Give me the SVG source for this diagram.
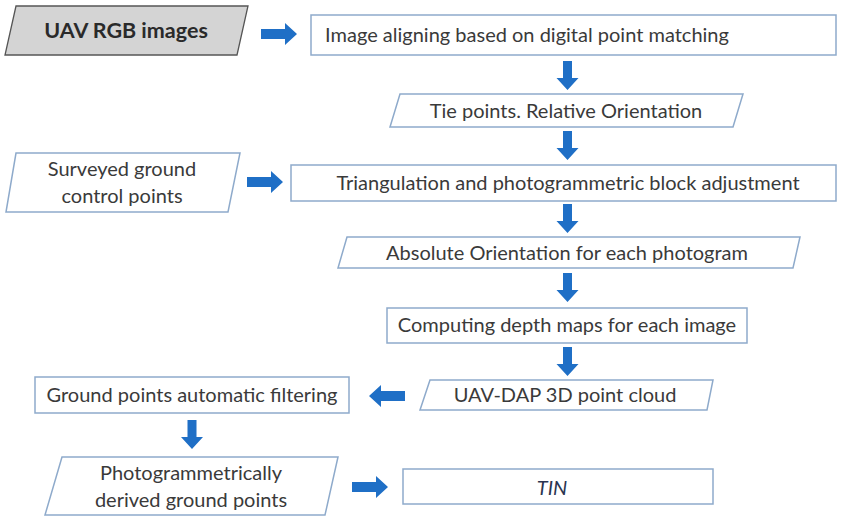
<svg xmlns="http://www.w3.org/2000/svg" width="842" height="516" viewBox="0 0 842 516">
<style>
  .box { fill: #ffffff; stroke: #8eaacb; stroke-width: 1.5; }
  .src { fill: #d4d4d4; stroke: #555555; stroke-width: 1.3; }
  .t { font-family: Lato, "Liberation Sans", sans-serif; font-size: 20px; fill: #3a3a3a; text-anchor: middle; }
  .b { font-weight: bold; font-size: 21.5px; fill: #2a2a2a; }
  .i { font-style: italic; fill: #2a3550; }
  .arr { fill: #1f6fc6; }
</style>
<defs>
  <path id="ar" d="M0,-5 H24 V-11 L36,0 L24,11 V5 H0 Z"/>
  <path id="ad" d="M-4.5,0 H4.5 V17 H11 L0,29 L-11,17 H-4.5 Z"/>
</defs>
<rect width="842" height="516" fill="#ffffff"/>

<g id="n-uav">
  <polygon class="src" points="16,6 248,6 237,55 5,55"/>
  <text class="t b" x="126" y="38">UAV RGB images</text>
</g>
<g id="n-align">
  <rect class="box" x="311" y="15" width="525" height="40"/>
  <text class="t" x="527" y="42">Image aligning based on digital point matching</text>
</g>
<g id="n-tie">
  <polygon class="box" points="400,94 743,94 733,127 390,127"/>
  <text class="t" x="566" y="118">Tie points. Relative Orientation</text>
</g>
<g id="n-gcp">
  <polygon class="box" points="16,153 240,153 228,212 6,212"/>
  <text class="t" x="122" y="176">Surveyed ground</text>
  <text class="t" x="122" y="203">control points</text>
</g>
<g id="n-tri">
  <rect class="box" x="291" y="165" width="545" height="36"/>
  <text class="t" x="568" y="190">Triangulation and photogrammetric block adjustment</text>
</g>
<g id="n-abs">
  <polygon class="box" points="347,237 800,237 793,268 338,268"/>
  <text class="t" x="567" y="260">Absolute Orientation for each photogram</text>
</g>
<g id="n-depth">
  <rect class="box" x="387" y="308" width="360" height="35"/>
  <text class="t" x="567" y="332">Computing depth maps for each image</text>
</g>
<g id="n-cloud">
  <polygon class="box" points="430,380 713,380 707,410 420,410"/>
  <text class="t" x="565" y="402">UAV-DAP 3D point cloud</text>
</g>
<g id="n-filter">
  <rect class="box" x="35" y="377" width="314" height="36"/>
  <text class="t" x="192" y="402">Ground points automatic filtering</text>
</g>
<g id="n-ground">
  <polygon class="box" points="62,457 338,457 325,515 45,515"/>
  <text class="t" x="191" y="480">Photogrammetrically</text>
  <text class="t" x="191" y="507">derived ground points</text>
</g>
<g id="n-tin">
  <rect class="box" x="403" y="469" width="310" height="35"/>
  <text class="t i" x="552" y="495">TIN</text>
</g>

<g id="connectors" class="arr">
  <use href="#ar" transform="translate(261,34)"/>
  <use href="#ad" transform="translate(567.5,61)"/>
  <use href="#ad" transform="translate(567.5,131)"/>
  <use href="#ar" transform="translate(247,182)"/>
  <use href="#ad" transform="translate(567.5,204)"/>
  <use href="#ad" transform="translate(567.5,273)"/>
  <use href="#ad" transform="translate(567.5,347)"/>
  <use href="#ar" transform="translate(405,396) rotate(180)"/>
  <use href="#ad" transform="translate(192,420)"/>
  <use href="#ar" transform="translate(352,487)"/>
</g>
</svg>
